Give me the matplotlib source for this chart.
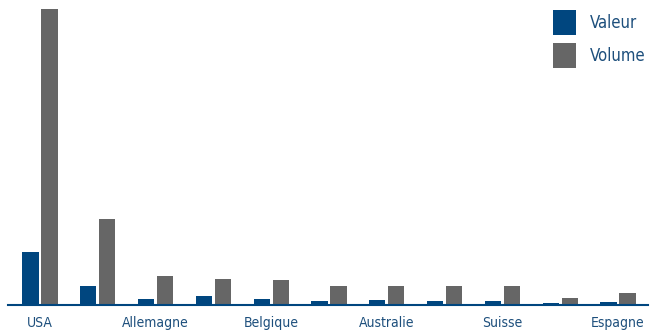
import matplotlib.pyplot as plt
import numpy as np

# Exports par pays : valeur et volume (unités relatives)
tick_labels = ['USA', '', 'Allemagne', '', 'Belgique', '', 'Australie', '', 'Suisse', '', 'Espagne']
valeur = [53, 19, 6, 9, 6, 4, 5, 4, 4, 2, 3]
volume = [296, 86, 29, 26, 25, 19, 19, 19, 19, 7, 12]

BLUE = '#00467f'
GREY = '#666666'
TEXT = '#1d4f7c'

plt.rcParams['font.family'] = 'DejaVu Sans'
plt.rcParams['font.stretch'] = 'condensed'

fig = plt.figure(figsize=(6.59, 3.31), dpi=100)
ax = fig.add_axes([8 / 659, (331 - 305) / 331, 640 / 659, 296 / 331])

x = np.arange(len(tick_labels))
w = 0.28
ax.bar(x - 0.165, valeur, w, color=BLUE, label='Valeur')
ax.bar(x + 0.165, volume, w, color=GREY, label='Volume')

ax.set_xlim(-0.554, 10.52)
ax.set_ylim(0, 296)
ax.set_xticks(x)
ax.set_xticklabels(tick_labels, fontsize=10, color=TEXT, fontstretch='condensed')
ax.tick_params(axis='x', length=0, pad=8)
ax.set_yticks([])
for side in ['top', 'right', 'left']:
    ax.spines[side].set_visible(False)
ax.spines['bottom'].set_color(BLUE)
ax.spines['bottom'].set_linewidth(1.5)

leg = fig.legend(loc='upper right', bbox_to_anchor=(646 / 659, 1 - 10 / 331), frameon=False,
                 fontsize=12, handlelength=1.4, handleheight=1.9, borderpad=0,
                 borderaxespad=0, handletextpad=0.85, labelspacing=0.5)
for t in leg.get_texts():
    t.set_color(TEXT)
    t.set_fontstretch('condensed')

fig.savefig('out.png', dpi=100)
